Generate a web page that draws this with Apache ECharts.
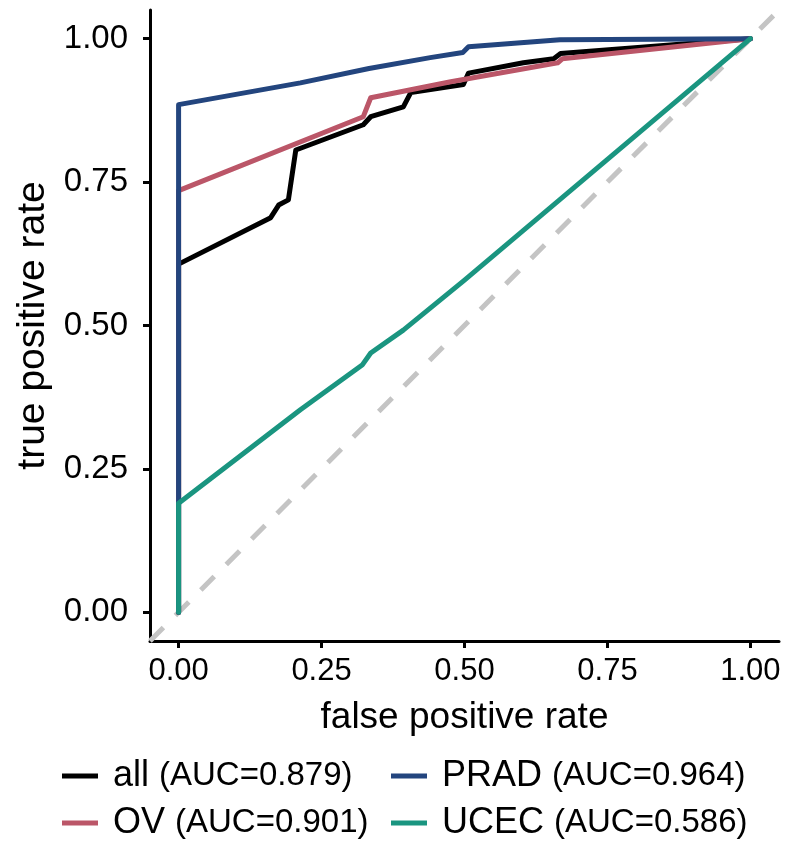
<!DOCTYPE html>
<html><head><meta charset="utf-8">
<script src="https://cdn.jsdelivr.net/npm/echarts@6/dist/echarts.min.js"></script>
<style>html,body{margin:0;padding:0;background:#fff}#c{width:800px;height:843px}</style>
</head><body><div id="c"></div>
<script>
const tickValues = [0, 0.25, 0.5, 0.75, 1];
const diagX = [-0.05, 1.05];
const diagY = [-0.05, 1.05];

const allFpr = [0, 0, 0.161, 0.175, 0.192, 0.205, 0.323, 0.336, 0.393, 0.406, 0.498, 0.507, 0.603, 0.656, 0.668, 1];
const allTpr = [0, 0.607, 0.688, 0.710, 0.719, 0.806, 0.850, 0.864, 0.881, 0.906, 0.920, 0.940, 0.958, 0.965, 0.974, 1];

const ovFpr = [0, 0, 0.323, 0.336, 0.476, 0.663, 0.671, 1];
const ovTpr = [0, 0.735, 0.864, 0.897, 0.925, 0.958, 0.965, 1];

const pradFpr = [0, 0, 0.213, 0.333, 0.44, 0.497, 0.507, 0.667, 1];
const pradTpr = [0, 0.885, 0.923, 0.948, 0.967, 0.976, 0.986, 0.998, 1];

const ucecFpr = [0, 0, 0.213, 0.321, 0.336, 0.393, 0.5, 1];
const ucecTpr = [0, 0.19, 0.353, 0.431, 0.452, 0.492, 0.579, 1];

const seriesNames = ['all', 'OV', 'PRAD', 'UCEC'];
const aucValues = ['0.879', '0.901', '0.964', '0.586'];
const colors = ['#000000', '#bb5668', '#23457e', '#1a9580'];

const zip = (xs, ys) => xs.map((x, i) => [x, ys[i]]);
const curves = [zip(allFpr, allTpr), zip(ovFpr, ovTpr), zip(pradFpr, pradTpr), zip(ucecFpr, ucecTpr)];
const aucMap = {};
seriesNames.forEach((n, i) => aucMap[n] = aucValues[i]);

const chart = echarts.init(document.getElementById('c'), null, {renderer: 'canvas'});
const FONT = "'Liberation Sans', Arial, sans-serif";

// legend placement: [left, top] for each series name
const legendPos = {all: [62, 758], OV: [62, 805], PRAD: [391, 758], UCEC: [391, 805]};

const legends = seriesNames.map(n => ({
  left: legendPos[n][0], top: legendPos[n][1], padding: 0,
  orient: 'horizontal', icon: 'rect', itemWidth: 36, itemHeight: 5,
  data: [n],
  formatter: name => `{g|}{a|${name}}{s|}{b|(AUC=${aucMap[name]})}`,
  textStyle: {
    color: '#000',
    rich: {
      g: {width: 10, height: 40},
      s: {width: 10, height: 40},
      a: {fontFamily: FONT, fontSize: 36, color: '#000', lineHeight: 40},
      b: {fontFamily: FONT, fontSize: 33, color: '#000', lineHeight: 40}
    }
  }
}));

chart.setOption({
  animation: false,
  backgroundColor: '#fff',
  grid: {left: 150, right: 21, top: 10, bottom: 202, containLabel: false},
  xAxis: {
    type: 'value', min: -0.05, max: 1.05,
    name: 'false positive rate', nameLocation: 'middle', nameGap: 58,
    nameTextStyle: {fontFamily: FONT, fontSize: 37, color: '#000'},
    axisLine: {show: true, onZero: false, lineStyle: {color: '#000', width: 3}},
    axisTick: {show: true, length: 7, lineStyle: {color: '#000', width: 3}, customValues: tickValues},
    axisLabel: {margin: 15, fontFamily: FONT, fontSize: 31, color: '#000', customValues: tickValues,
      formatter: v => v.toFixed(2)},
    splitLine: {show: false}
  },
  yAxis: {
    type: 'value', min: -0.05, max: 1.05,
    name: 'true positive rate', nameLocation: 'middle', nameGap: 91,
    nameTextStyle: {fontFamily: FONT, fontSize: 39, color: '#000'},
    axisLine: {show: true, onZero: false, lineStyle: {color: '#000', width: 3}},
    axisTick: {show: true, length: 7, lineStyle: {color: '#000', width: 3}, customValues: tickValues},
    axisLabel: {margin: 22, fontFamily: FONT, fontSize: 33, color: '#000', customValues: tickValues,
      formatter: v => v.toFixed(2)},
    splitLine: {show: false}
  },
  legend: legends,
  series: [
    {
      type: 'line', name: 'diag', data: zip(diagX, diagY), symbol: 'none', silent: true,
      lineStyle: {color: '#c4c4c4', width: 5, type: [19, 17]}, z: 1
    }
  ].concat(seriesNames.map((n, i) => ({
    type: 'line', name: n, data: curves[i], symbol: 'none', color: colors[i],
    lineStyle: {color: colors[i], width: 5, cap: 'round', join: 'round'}, z: 2 + i
  })))
});
</script>
</body></html>
